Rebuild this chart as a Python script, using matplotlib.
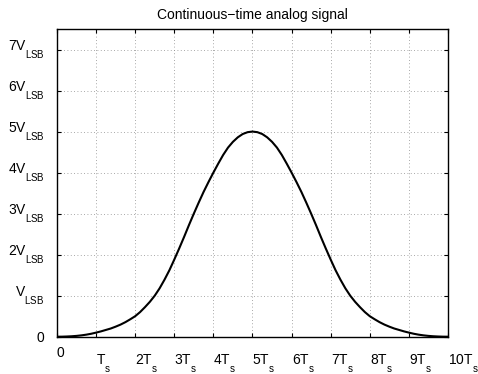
import numpy as np
import matplotlib
matplotlib.use("Agg")
import matplotlib.pyplot as plt
from matplotlib.transforms import ScaledTranslation

plt.rcParams['font.family'] = ['Liberation Sans', 'DejaVu Sans']
plt.rcParams['mathtext.default'] = 'regular'

# push subscripts lower, like the matlab labels (V_LSB, T_s)
try:
    import matplotlib._mathtext as _mt
    _mt.FontConstantsBase.sub1 = 1.0
except Exception:
    pass

# signal, time in units of Ts, amplitude in V_LSB
t = [0, 0.125, 0.25, 0.375, 0.5, 0.625, 0.75, 0.875, 1.0, 1.125, 1.25, 1.375,
     1.5, 1.625, 1.75, 1.875, 2.0, 2.125, 2.25, 2.375, 2.5, 2.625, 2.75, 2.875,
     3.0, 3.125, 3.25, 3.375, 3.5, 3.625, 3.75, 3.875, 4.0, 4.125, 4.25, 4.375,
     4.5, 4.625, 4.75, 4.875, 5.0, 5.125, 5.25, 5.375, 5.5, 5.625, 5.75, 5.875,
     6.0, 6.125, 6.25, 6.375, 6.5, 6.625, 6.75, 6.875, 7.0, 7.125, 7.25, 7.375,
     7.5, 7.625, 7.75, 7.875, 8.0, 8.125, 8.25, 8.375, 8.5, 8.625, 8.75, 8.875,
     9.0, 9.125, 9.25, 9.375, 9.5, 9.625, 9.75, 9.875, 10.0]
v = [0, 0.001, 0.005, 0.011, 0.02, 0.033, 0.05, 0.072, 0.10, 0.13, 0.165, 0.20,
     0.245, 0.295, 0.355, 0.425, 0.50, 0.60, 0.72, 0.85, 1.00, 1.18, 1.39, 1.62,
     1.88, 2.15, 2.43, 2.72, 3.00, 3.27, 3.53, 3.77, 4.00, 4.22, 4.43, 4.61,
     4.75, 4.86, 4.94, 4.985, 5.00, 4.985, 4.94, 4.86, 4.75, 4.61, 4.43, 4.22,
     4.00, 3.77, 3.53, 3.27, 3.00, 2.72, 2.43, 2.15, 1.88, 1.62, 1.39, 1.18,
     1.00, 0.85, 0.72, 0.60, 0.50, 0.425, 0.355, 0.295, 0.245, 0.20, 0.165, 0.13,
     0.10, 0.072, 0.05, 0.033, 0.02, 0.011, 0.005, 0.001, 0]

xticks = list(range(11))
xlabels = ['0', r'$T_s$'] + [r'$%dT_s$' % k for k in range(2, 11)]
yticks = list(range(8))
ylabels = ['0', r'$V_{LSB}$'] + [r'$%dV_{LSB}$' % k for k in range(2, 8)]

fig = plt.figure(figsize=(4.78, 3.74), dpi=100)
ax = fig.add_axes([0.1192, 0.0997, 0.818, 0.8228])

ax.plot(t, v, color='black', linewidth=1.5)

ax.set_xlim(0, 10)
ax.set_ylim(0, 7.5)
ax.set_xticks(xticks)
ax.set_xticklabels(xlabels, ha='left', fontsize=10)
ax.set_yticks(yticks)
ax.set_yticklabels(ylabels, fontsize=10)
ax.tick_params(direction='in', length=3, width=0.8, top=True, right=True)
ax.tick_params(axis='x', pad=7)
ax.tick_params(axis='y', pad=9)

# matlab-style: subscripted labels sit lower than the plain "0"
for lab in ax.get_xticklabels()[1:]:
    lab.set_transform(lab.get_transform() + ScaledTranslation(0, -4 / 72, fig.dpi_scale_trans))
for lab in ax.get_yticklabels()[1:]:
    lab.set_va('baseline')

ax.grid(True, linestyle=(0, (1, 3)), color='#8c8c8c', linewidth=0.6)
for s in ax.spines.values():
    s.set_linewidth(1.0)

ax.set_title('Continuous\u2212time analog signal', fontsize=10, pad=7)

fig.savefig('out.png', dpi=100)
